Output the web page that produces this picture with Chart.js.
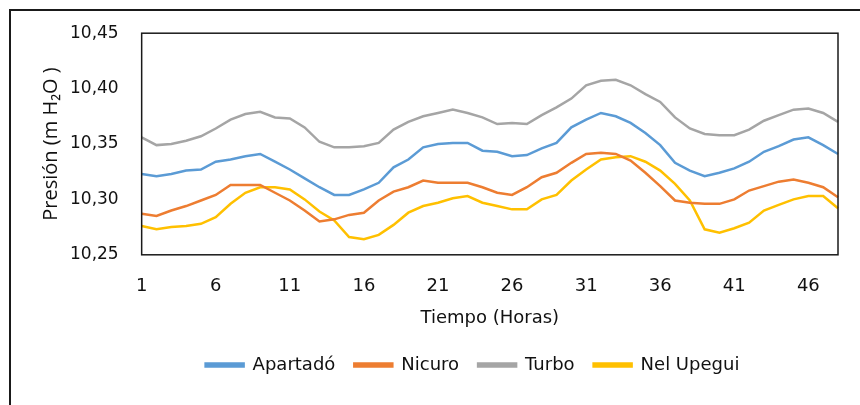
<!DOCTYPE html>
<html>
<head>
<meta charset="utf-8">
<script src="https://cdn.jsdelivr.net/npm/chart.js@4.4.1/dist/chart.umd.min.js"></script>
<style>
  html, body { margin: 0; padding: 0; background: #fff; overflow: hidden; }
  #wrap { position: relative; width: 860px; height: 405px; }
  #frame { position: absolute; left: 9px; top: 9px; width: 900px; height: 450px; border: 2px solid #1a1a1a; box-sizing: border-box; }
  #myChart { position: absolute; left: 0; top: 0; }
</style>
</head>
<body>
<div id="wrap">
  <div id="frame"></div>
  <canvas id="myChart" width="860" height="405"></canvas>
</div>
<script>
// hours 1..48
let hours = [];
for (let h = 1; h <= 48; h++) hours.push(h);

let apartado = [10.323, 10.321, 10.323, 10.326, 10.327, 10.334, 10.336, 10.339, 10.341, 10.334,
  10.327, 10.319, 10.311, 10.304, 10.304, 10.309, 10.315, 10.329, 10.336, 10.347,
  10.350, 10.351, 10.351, 10.344, 10.343, 10.339, 10.340, 10.346, 10.351, 10.365,
  10.372, 10.378, 10.375, 10.369, 10.360, 10.349, 10.333, 10.326, 10.321, 10.324,
  10.328, 10.334, 10.343, 10.348, 10.354, 10.356, 10.349, 10.341];

let nicuro = [10.287, 10.285, 10.290, 10.294, 10.299, 10.304, 10.313, 10.313, 10.313, 10.306,
  10.299, 10.290, 10.280, 10.282, 10.286, 10.288, 10.299, 10.307, 10.311, 10.317,
  10.315, 10.315, 10.315, 10.311, 10.306, 10.304, 10.311, 10.320, 10.324, 10.333,
  10.341, 10.342, 10.341, 10.335, 10.324, 10.312, 10.299, 10.297, 10.296, 10.296,
  10.300, 10.308, 10.312, 10.316, 10.318, 10.315, 10.311, 10.302];

let turbo = [10.356, 10.349, 10.350, 10.353, 10.357, 10.364, 10.372, 10.377, 10.379, 10.374,
  10.373, 10.365, 10.352, 10.347, 10.347, 10.348, 10.351, 10.363, 10.370, 10.375,
  10.378, 10.381, 10.378, 10.374, 10.368, 10.369, 10.368, 10.376, 10.383, 10.391,
  10.403, 10.407, 10.408, 10.403, 10.395, 10.388, 10.374, 10.364, 10.359, 10.358,
  10.358, 10.363, 10.371, 10.376, 10.381, 10.382, 10.378, 10.370];

let nelUpegui = [10.276, 10.273, 10.275, 10.276, 10.278, 10.284, 10.296, 10.306, 10.311, 10.311,
  10.309, 10.300, 10.289, 10.281, 10.266, 10.264, 10.268, 10.277, 10.288, 10.294,
  10.297, 10.301, 10.303, 10.297, 10.294, 10.291, 10.291, 10.300, 10.304, 10.317,
  10.327, 10.336, 10.338, 10.339, 10.334, 10.326, 10.314, 10.299, 10.273, 10.270,
  10.274, 10.279, 10.290, 10.295, 10.300, 10.303, 10.303, 10.292];

let seriesNames = ['Apartadó', 'Nicuro', 'Turbo', 'Nel Upegui'];
let seriesColors = ['#5B9BD5', '#ED7D31', '#A5A5A5', '#FFC000'];
let yTicks = [10.25, 10.30, 10.35, 10.40, 10.45];

// box around the plot area
const plotFrame = {
  id: 'plotFrame',
  afterDatasetsDraw: (chart) => {
    const a = chart.chartArea;
    const c = chart.ctx;
    c.save();
    c.strokeStyle = '#1a1a1a';
    c.lineWidth = 1.5;
    c.strokeRect(a.left, a.top, a.right - a.left, a.bottom - a.top);
    c.restore();
  }
};

// the legend in the picture is not centred on the canvas
const legendShift = {
  id: 'legendShift',
  afterLayout: (chart) => {
    chart.legend.left += 34;
    chart.legend.right += 34;
  }
};

const ctx = document.getElementById('myChart').getContext('2d');
const allSeries = [apartado, nicuro, turbo, nelUpegui];

new Chart(ctx, {
  type: 'line',
  data: {
    labels: hours,
    datasets: allSeries.map((d, i) => ({
      label: seriesNames[i],
      data: d,
      borderColor: seriesColors[i],
      backgroundColor: seriesColors[i],
      borderWidth: 2.5,
      pointRadius: 0,
      tension: 0,
      fill: false
    }))
  },
  options: {
    responsive: false,
    animation: false,
    layout: { padding: { left: 39, right: 22, top: 24, bottom: 21 } },
    plugins: {
      tooltip: { enabled: false },
      legend: {
        position: 'bottom',
        labels: {
          boxWidth: 38,
          boxHeight: 3,
          padding: 19,
          color: '#111',
          font: { family: 'DejaVu Sans', size: 18 }
        }
      }
    },
    scales: {
      x: {
        type: 'category',
        offset: false,
        grid: { display: false, drawTicks: false },
        border: { display: false },
        ticks: {
          autoSkip: false,
          maxRotation: 0,
          padding: 21,
          color: '#111',
          font: { family: 'DejaVu Sans', size: 18 },
          callback: function (v, i) { return i % 5 === 0 ? String(hours[i]) : ''; }
        },
        title: {
          display: true,
          text: 'Tiempo (Horas)',
          color: '#111',
          font: { family: 'DejaVu Sans', size: 18 },
          padding: { top: -11, bottom: 8 }
        }
      },
      y: {
        min: yTicks[0],
        max: yTicks[yTicks.length - 1],
        grid: { display: false, drawTicks: false },
        border: { display: false },
        afterBuildTicks: (axis) => { axis.ticks = yTicks.map(v => ({ value: v })); },
        ticks: {
          padding: 23,
          color: '#111',
          font: { family: 'DejaVu Sans', size: 17 },
          callback: (v) => Number(v).toFixed(2).replace('.', ',')
        },
        title: {
          display: true,
          text: 'Presión (m H₂O )',
          color: '#111',
          font: { family: 'Open Sans', size: 20 },
          padding: { top: 0, bottom: -16 }
        }
      }
    }
  },
  plugins: [plotFrame, legendShift]
});
</script>
</body>
</html>
